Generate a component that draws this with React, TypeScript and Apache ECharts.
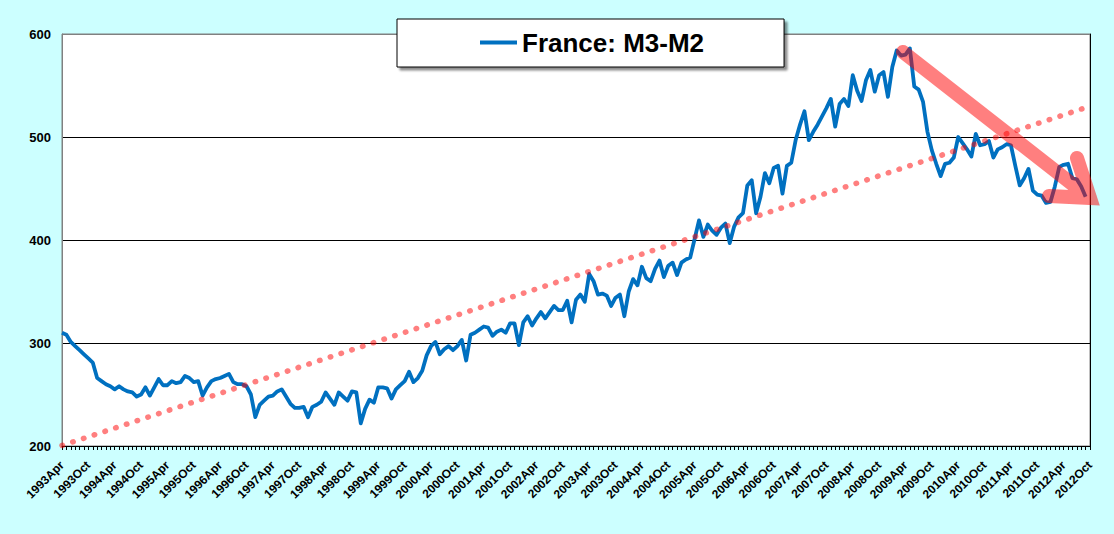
import React, { useEffect, useRef } from "react";
import * as echarts from "echarts";

const FONT = "'Liberation Sans', Arial, Helvetica, sans-serif";

const MONTH_NAMES = ["Jan", "Feb", "Mar", "Apr", "May", "Jun", "Jul", "Aug", "Sep", "Oct", "Nov", "Dec"];
const START_YEAR = 1993;
const START_MONTH = 3; // April
const END_YEAR = 2012;
const END_MONTH = 9; // October

const CATEGORIES: string[] = [];
for (let y = START_YEAR, m = START_MONTH; y < END_YEAR || (y === END_YEAR && m <= END_MONTH); ) {
  CATEGORIES.push(`${y}${MONTH_NAMES[m]}`);
  m++;
  if (m > 11) {
    m = 0;
    y++;
  }
}

const SERIES_NAME = "France: M3-M2";

// Monthly values, 1993Apr .. 2012Sep
const M3_M2 = [
  310, 308, 301, 297, 293, 289, 285, 281, 266, 263, 260, 258,
  255, 258, 255, 253, 252, 248, 250, 257, 249, 257, 265, 259,
  259, 263, 261, 262, 268, 266, 262, 263, 249, 257, 263, 265,
  266, 268, 270, 262, 260, 260, 258, 250, 228, 240, 244, 248,
  249, 253, 255, 248, 241, 237, 237, 238, 228, 238, 240, 243,
  252, 246, 240, 252, 248, 244, 253, 252, 222, 236, 245, 242,
  257, 257, 256, 246, 255, 259, 263, 272, 262, 266, 273, 288,
  297, 301, 289, 294, 297, 293, 297, 303, 283, 308, 310, 313,
  316, 315, 307, 311, 313, 310, 319, 319, 298, 320, 326, 317,
  324, 330, 324, 330, 336, 332, 332, 341, 320, 342, 347, 340,
  367, 360, 347, 348, 346, 336, 344, 347, 326, 350, 362, 356,
  374, 363, 360, 372, 380, 364, 375, 378, 366, 378, 381, 383,
  401, 419, 403, 415, 409, 405, 412, 416, 397, 413, 422, 426,
  453, 458, 426, 442, 465, 455, 470, 472, 445, 472, 475, 497,
  512, 525, 497, 505, 512, 520, 528, 537, 510, 532, 537, 530,
  560, 545, 535, 555, 565, 544, 560, 563, 539, 568, 584, 579,
  580, 586, 549, 546, 534, 505, 487, 474, 462, 474, 475, 480,
  500, 494, 488, 481, 503, 492, 493, 496, 480, 488, 490, 493,
  492, 472, 453, 460, 469, 448, 444, 443, 436, 437, 452, 471,
  473, 474, 460, 459, 452, 442,
];

// Linear trend end points
const TREND_START = 200.5;
const TREND_END = 528.5;

const Y_MIN = 200;
const Y_MAX = 600;
const Y_STEP = 100;

// Hand-drawn downward arrow annotation (pixel path)
const ARROW_PATH = "M903 52 L1090 198 M1049 196 L1090 198 L1077 158";
echarts.graphic.registerShape("downArrow", echarts.graphic.extendPath(ARROW_PATH, {}));

export default function App() {
  const ref = useRef<HTMLDivElement>(null);

  useEffect(() => {
    if (!ref.current) return;
    const chart = echarts.init(ref.current, null, { renderer: "svg" });
    const lastIdx = M3_M2.length - 1;
    chart.setOption({
      animation: false,
      backgroundColor: "#ccffff",
      textStyle: { fontFamily: FONT },
      grid: {
        left: 62,
        top: 34,
        right: 24,
        bottom: 88,
        show: true,
        backgroundColor: "#ffffff",
        borderColor: "#808080",
        borderWidth: 1,
      },
      legend: {
        data: [{ name: SERIES_NAME, icon: "rect" }],
        left: 397,
        top: 19,
        padding: [10, 80, 11, 83],
        itemWidth: 37,
        itemHeight: 4,
        selectedMode: false,
        backgroundColor: "#ffffff",
        borderColor: "#000000",
        borderWidth: 1,
        shadowColor: "rgba(0,0,0,0.45)",
        shadowBlur: 2,
        shadowOffsetX: 3,
        shadowOffsetY: 3,
        itemStyle: { color: "#0070c0", borderWidth: 0 },
        textStyle: { fontSize: 26, fontWeight: "bold", color: "#000", fontFamily: FONT, lineHeight: 27 },
      },
      xAxis: {
        type: "category",
        data: CATEGORIES,
        boundaryGap: false,
        axisLine: { show: true, lineStyle: { color: "#000", width: 1 } },
        axisTick: { show: true, interval: 0, length: 4, lineStyle: { color: "#000" } },
        axisLabel: {
          interval: 5,
          rotate: 45,
          margin: 17,
          fontSize: 12,
          fontWeight: "bold",
          color: "#000",
          fontFamily: FONT,
        },
        splitLine: { show: false },
      },
      yAxis: [
        {
          type: "value",
          min: Y_MIN,
          max: Y_MAX,
          interval: Y_STEP,
          axisLine: { show: true, lineStyle: { color: "#808080" } },
          axisTick: { show: false },
          axisLabel: { fontSize: 13, fontWeight: "bold", color: "#000", margin: 11, fontFamily: FONT },
          splitLine: {
            show: true,
            lineStyle: { color: ["#000", "#000", "#000", "#000", "#808080"], width: 1 },
          },
        },
        {
          type: "value",
          position: "right",
          min: Y_MIN,
          max: Y_MAX,
          interval: Y_STEP,
          axisLine: { show: true, lineStyle: { color: "#000" } },
          axisTick: { show: false },
          axisLabel: { show: false },
          splitLine: { show: false },
        },
      ],
      series: [
        {
          name: SERIES_NAME,
          type: "line",
          data: M3_M2,
          symbol: "none",
          lineStyle: { color: "#0070c0", width: 3.8, join: "round" },
          itemStyle: { color: "#0070c0" },
          z: 2,
        },
        {
          name: "trend",
          type: "line",
          data: [
            [CATEGORIES[0], TREND_START],
            [CATEGORIES[lastIdx], TREND_END],
          ],
          symbol: "none",
          lineStyle: { color: "rgba(255,0,0,0.5)", width: 5.5, type: [0.5, 10.8], cap: "round" },
          z: 3,
          silent: true,
        },
      ],
      graphic: [
        {
          type: "downArrow",
          x: 0,
          y: 0,
          z: 100,
          silent: true,
          style: {
            fill: "none",
            stroke: "#ff0000",
            lineWidth: 14,
            opacity: 0.5,
            lineCap: "round",
            lineJoin: "miter",
          },
        },
      ],
    });
    return () => chart.dispose();
  }, []);

  return (
    <div
      ref={ref}
      style={{ position: "fixed", left: 0, top: 0, width: 1114, height: 534 }}
    />
  );
}
